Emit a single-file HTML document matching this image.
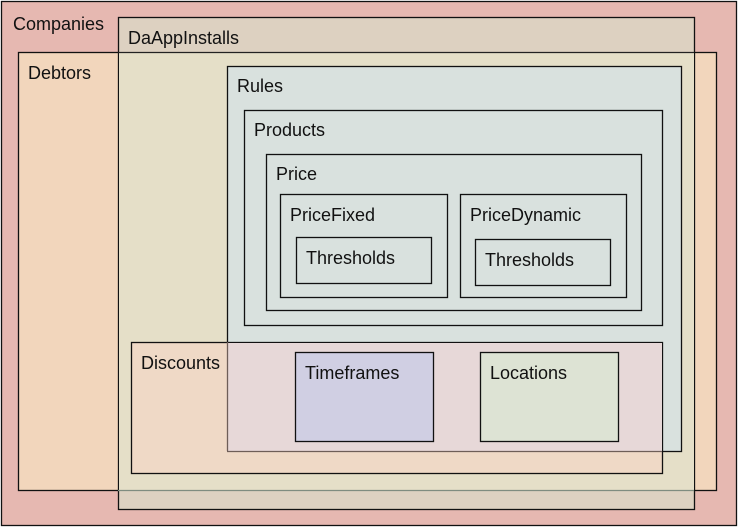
<!DOCTYPE html>
<html><head><meta charset="utf-8"><style>
html,body{margin:0;padding:0;background:#fff;}
svg{display:block;}
text{font-family:"Liberation Sans",Arial,sans-serif;font-size:18px;fill:#111;}
</style></head><body>
<svg width="739" height="530" viewBox="0 0 739 530">
<g stroke="#111" stroke-width="1.3">
<rect x="1.5" y="1.5" width="735" height="524" fill="#e6b8b1"/>
<rect x="18.5" y="52.5" width="698" height="438" fill="#f2d6bc"/>
<rect x="118.5" y="17.5" width="576" height="492" fill="#ddd1c1"/>
</g>
<rect x="119" y="53" width="575" height="437" fill="#e5dfc8"/>
<line x1="118" y1="52.5" x2="694" y2="52.5" stroke="#222" stroke-width="1.3"/>
<line x1="118" y1="490.5" x2="694" y2="490.5" stroke="#7f8c80" stroke-width="1.3"/>
<g stroke="#111" stroke-width="1.3">
<rect x="227.5" y="66.5" width="454" height="385" fill="#d9e1de"/>
<rect x="131.5" y="342.5" width="531" height="131" fill="#efd9c6"/>
</g>
<rect x="228" y="343" width="434" height="108" fill="#e7d8d8"/>
<line x1="227.5" y1="342" x2="227.5" y2="451" stroke="#6e5e58" stroke-width="1.3"/>
<line x1="227" y1="451.5" x2="662" y2="451.5" stroke="#6e5e58" stroke-width="1.3"/>
<g stroke="#111" stroke-width="1.3" fill="#d9e1de">
<rect x="244.5" y="110.5" width="418" height="215"/>
<rect x="266.5" y="154.5" width="375" height="156"/>
<rect x="280.5" y="194.5" width="167" height="103"/>
<rect x="296.5" y="237.5" width="135" height="46"/>
<rect x="460.5" y="194.5" width="166" height="103"/>
<rect x="475.5" y="239.5" width="135" height="46"/>
<rect x="295.5" y="352.5" width="138" height="89" fill="#d0cfe3"/>
<rect x="480.5" y="352.5" width="138" height="89" fill="#dde3d4"/>
</g>
<text x="13" y="30">Companies</text>
<text x="128" y="44">DaAppInstalls</text>
<text x="28" y="79">Debtors</text>
<text x="237" y="92">Rules</text>
<text x="254" y="136">Products</text>
<text x="276" y="180">Price</text>
<text x="290" y="221">PriceFixed</text>
<text x="306" y="264">Thresholds</text>
<text x="470" y="221">PriceDynamic</text>
<text x="485" y="266">Thresholds</text>
<text x="141" y="369">Discounts</text>
<text x="305" y="379">Timeframes</text>
<text x="490" y="379">Locations</text>
</svg>
</body></html>
